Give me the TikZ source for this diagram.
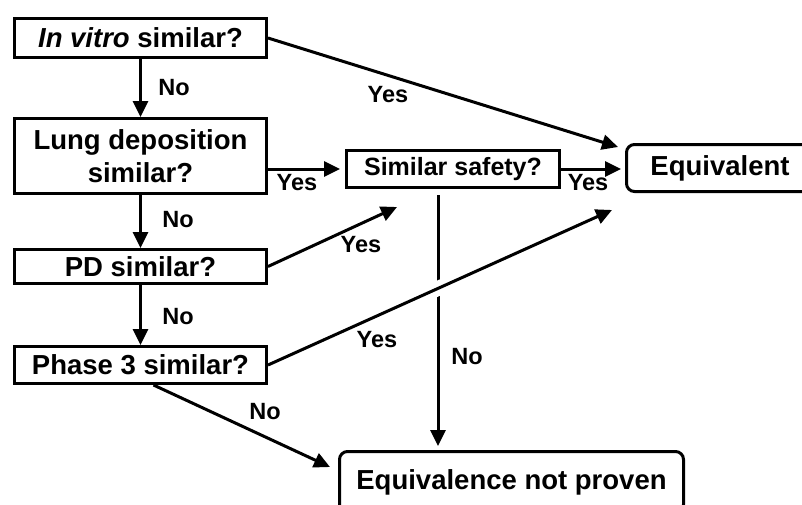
\documentclass[tikz,border=0pt]{standalone}
\usepackage{fontspec}
\setmainfont{Liberation Sans}
\usetikzlibrary{arrows.meta,calc}
\begin{document}
\begin{tikzpicture}[x=1pt,y=-1pt,line width=3pt,
    box/.style={draw,rectangle,inner sep=1pt,align=center,font=\fontsize{27.5}{33}\selectfont\bfseries},
    endbox/.style={box,rounded corners=8pt},
    lbl/.style={inner sep=0pt,font=\fontsize{23.5}{28}\selectfont\bfseries},
    arr/.style={-{Triangle[length=16pt,width=15pt]}}]
  \useasboundingbox (0,0) rectangle (802,504);
  % question boxes
  \node [box,minimum width=252pt,minimum height=39pt] (invitro) at (140.5,38) {\textit{In vitro} similar?};
  \node [box,minimum width=252pt,minimum height=75pt] (lung) at (140.5,156) {Lung deposition\\similar?};
  \node [box,minimum width=252pt,minimum height=34pt] (pd) at (140.5,266.5) {PD similar?};
  \node [box,minimum width=252pt,minimum height=37pt] (phase) at (140.5,365) {Phase 3 similar?};
  \node [box,minimum width=213pt,minimum height=37pt,font=\fontsize{25}{30}\selectfont\bfseries] (safety) at (453,169) {Similar safety?};
  % outcomes
  \node [endbox,minimum width=187pt,minimum height=47pt] (equiv) at (720,168) {Equivalent};
  \node [endbox,minimum width=344pt,minimum height=61pt] (notproven) at (511.5,482) {Equivalence not proven};
  % free arrow ends
  \coordinate (ivtip) at (618,147);
  \coordinate (pdtip) at (397,207);
  \coordinate (p3tip) at (612,210);
  \coordinate (sdown) at (438,195);
  \coordinate (nptip) at (330,467);
  % No chain
  \draw [arr] (invitro) -- (lung);
  \draw [arr] (lung) -- (pd);
  \draw [arr] (pd) -- (phase);
  % Yes arrows
  \draw [arr] (invitro.east) -- (ivtip);
  \draw [arr,shorten >=5pt] (lung.east |- safety.west) -- (safety.west);
  \draw [arr,shorten >=4pt] (safety.east) -- (safety.east -| equiv.west);
  \draw [arr] (pd.east) -- (pdtip);
  \draw [arr,shorten >=4pt] (sdown) -- (sdown |- notproven.north);
  \draw [white,line width=15pt] ($(phase.east)!0.44!(p3tip)$) -- ($(phase.east)!0.56!(p3tip)$);
  \draw [arr] (phase.east) -- (p3tip);
  \draw [arr] ($(phase.south)+(13,0)$) -- (nptip);
  % labels
  \node [lbl] (no1) at (174,88) {No};
  \node [lbl] (no2) at (178,220) {No};
  \node [lbl] (no3) at (178,317) {No};
  \node [lbl] (yes1) at (388,95) {Yes};
  \node [lbl] (yes2) at (297,183) {Yes};
  \node [lbl] (yes3) at (588,183) {Yes};
  \node [lbl] (yes4) at (361,245) {Yes};
  \node [lbl] (yes5) at (377,340) {Yes};
  \node [lbl] (no4) at (467,357) {No};
  \node [lbl] (no5) at (265,412) {No};
\end{tikzpicture}
\end{document}
